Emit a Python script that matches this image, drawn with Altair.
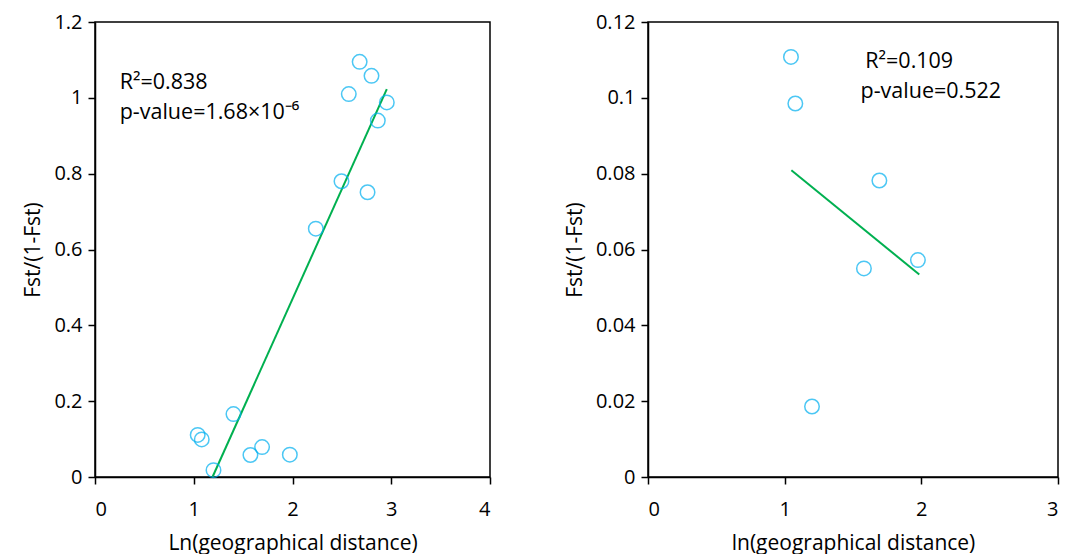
import altair as alt
import pandas as pd

# Left panel data
left_x = [2.68, 2.80, 2.57, 2.955, 2.864, 2.496, 2.76, 2.236, 1.402, 1.04, 1.081, 1.692, 1.574, 1.973, 1.20]
left_y = [1.095, 1.058, 1.010, 0.988, 0.940, 0.780, 0.751, 0.655, 0.166, 0.111, 0.099, 0.079, 0.058, 0.059, 0.018]
left_trend_x = [1.19, 2.955]
left_trend_y = [0.0, 1.023]

# Right panel data
right_x = [1.046, 1.078, 1.693, 1.58, 1.975, 1.20]
right_y = [0.1108, 0.0985, 0.0782, 0.0550, 0.0572, 0.0186]
right_trend_x = [1.049, 1.985]
right_trend_y = [0.0809, 0.0534]

left_ann = ["R²=0.838", "p-value=1.68×10⁻⁶"]
left_ann_x = [0.25, 0.25]
left_ann_y = [1.04, 0.96]
right_ann = ["R²=0.109", "p-value=0.522"]
right_ann_x = [1.59, 1.555]
right_ann_y = [0.1095, 0.1015]

FONT = "Open Sans"
BLUE = "#00B0F0"
GREEN = "#00B050"


def panel(px, py, tx, ty, ax, ay, atext, xdom, xvals, ydom, yvals, xtitle, w, h):
    pts = pd.DataFrame({"x": px, "y": py})
    trend = pd.DataFrame({"x": tx, "y": ty})
    ann = pd.DataFrame({"x": ax, "y": ay, "t": atext})
    xs = alt.Scale(domain=xdom, nice=False, zero=False)
    ys = alt.Scale(domain=ydom, nice=False, zero=False)
    xax = alt.Axis(values=xvals, format="~g", title=xtitle, grid=False)
    yax = alt.Axis(values=yvals, format="~g", title="Fst/(1-Fst)", grid=False)
    p = alt.Chart(pts).mark_point(shape="circle", filled=False, size=210,
                                   color=BLUE, strokeWidth=1.5).encode(
        x=alt.X("x:Q", scale=xs, axis=xax),
        y=alt.Y("y:Q", scale=ys, axis=yax),
    )
    l = alt.Chart(trend).mark_line(color=GREEN, strokeWidth=2).encode(
        x=alt.X("x:Q", scale=xs), y=alt.Y("y:Q", scale=ys)
    )
    t = alt.Chart(ann).mark_text(align="left", baseline="middle", fontSize=21.5,
                                 font=FONT, color="black").encode(
        x=alt.X("x:Q", scale=xs), y=alt.Y("y:Q", scale=ys), text="t:N"
    )
    return alt.layer(l, p, t).properties(width=w, height=h)


left = panel(left_x, left_y, left_trend_x, left_trend_y, left_ann_x, left_ann_y, left_ann,
             [0, 4], [0, 1, 2, 3, 4], [0, 1.2], [0, 0.2, 0.4, 0.6, 0.8, 1.0, 1.2],
             "Ln(geographical distance)", 395, 455)
right = panel(right_x, right_y, right_trend_x, right_trend_y, right_ann_x, right_ann_y, right_ann,
              [0, 3], [0, 1, 2, 3], [0, 0.12], [0, 0.02, 0.04, 0.06, 0.08, 0.1, 0.12],
              "ln(geographical distance)", 410, 455)

chart = alt.hconcat(left, right, spacing=71).configure(
    background="white", padding={"left": 14, "top": 3, "right": 0, "bottom": 0}
).configure_view(
    stroke="black", strokeWidth=1.5
).configure_axis(
    domainColor="black", domainWidth=1.5, tickColor="black", tickWidth=1.5, tickSize=7,
    labelColor="black", labelFont=FONT, labelFontSize=20, labelPadding=6,
    titleColor="black", titleFont=FONT, titleFontSize=21, titleFontWeight="normal",
    titlePadding=10
).configure_axisX(
    labelPadding=15, titlePadding=13
)

chart.save("out.html", embed_options={"renderer": "svg", "actions": False})
